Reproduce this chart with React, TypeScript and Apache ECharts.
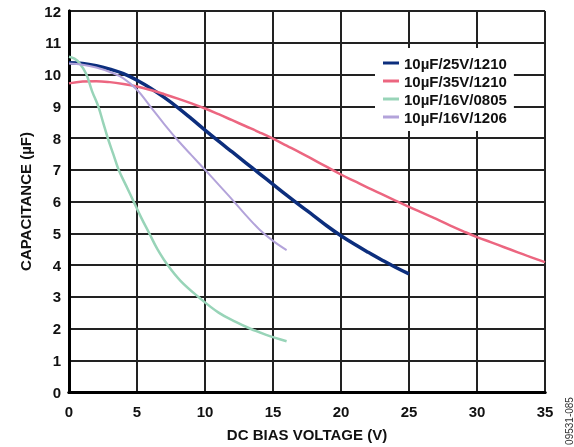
import React, { useEffect, useRef } from "react";
import * as echarts from "echarts";

const seriesNames = ["10µF/25V/1210", "10µF/35V/1210", "10µF/16V/0805", "10µF/16V/1206"];
const seriesColors = ["#0c2e7d", "#ec6680", "#98d4b8", "#b3a3da"];
const seriesWidths = [3.5, 2.5, 2.5, 2];

const blueV = [0, 1, 2, 3, 4, 5, 6, 7, 8, 9, 10, 11, 12, 13, 14, 15, 16, 17, 18, 19, 20, 21, 22, 23, 24, 25];
const blueC = [10.37, 10.35, 10.28, 10.17, 10.03, 9.82, 9.57, 9.28, 8.96, 8.61, 8.25, 7.9, 7.56, 7.22, 6.88, 6.54, 6.2, 5.87, 5.55, 5.22, 4.92, 4.65, 4.4, 4.16, 3.93, 3.72];

const pinkV = [0, 1, 2, 3, 4, 5, 6, 7, 8, 9, 10, 11, 12, 13, 14, 15, 16, 17, 18, 19, 20, 21, 22, 23, 24, 25, 26, 27, 28, 29, 30, 31, 32, 33, 34, 35];
const pinkC = [9.72, 9.78, 9.79, 9.76, 9.7, 9.62, 9.51, 9.38, 9.24, 9.09, 8.93, 8.75, 8.56, 8.37, 8.18, 7.98, 7.76, 7.54, 7.31, 7.08, 6.85, 6.64, 6.43, 6.23, 6.03, 5.83, 5.64, 5.45, 5.25, 5.06, 4.88, 4.72, 4.56, 4.4, 4.24, 4.09];

const greenV = [0, 0.4, 0.75, 1.25, 1.7, 2.15, 2.5, 2.85, 3.25, 3.65, 4.2, 4.75, 5.3, 5.9, 6.5, 7.25, 8.2, 9.5, 11, 12.3, 13.3, 14.5, 16];
const greenC = [10.56, 10.5, 10.37, 10.03, 9.47, 9.0, 8.5, 8.0, 7.5, 7.0, 6.5, 6.0, 5.5, 5.0, 4.5, 4.0, 3.5, 3.0, 2.5, 2.2, 2.0, 1.8, 1.6];

const purpleV = [0, 1, 2, 3, 4, 5, 6, 7, 8, 9, 10, 11, 12, 13, 14, 15, 16];
const purpleC = [10.35, 10.31, 10.22, 10.08, 9.88, 9.52, 8.98, 8.44, 7.93, 7.46, 7.0, 6.53, 6.06, 5.57, 5.12, 4.76, 4.47];

const xMin = 0;
const xMax = 35;
const xStep = 5;
const yMin = 0;
const yMax = 12;
const yStep = 1;

const xTitle = "DC BIAS VOLTAGE (V)";
const yTitle = "CAPACITANCE (µF)";
const figureId = "09531-085";

const FONT = 'Arial, "Liberation Sans", Helvetica, sans-serif';
const GRID = { left: 69, right: 29, top: 11, bottom: 55 };

function pairs(xs: number[], ys: number[]) {
  return xs.map((x, i) => [x, ys[i]]);
}

// Background layer: frame and grid lines drawn by the axes.
function GridLayer() {
  const ref = useRef<HTMLDivElement>(null);
  useEffect(() => {
    if (!ref.current) return;
    const chart = echarts.init(ref.current, null, { renderer: "svg" });
    chart.setOption({
      animation: false,
      grid: { ...GRID },
      xAxis: {
        type: "value",
        min: xMin,
        max: xMax,
        interval: xStep,
        axisLine: { show: true, lineStyle: { color: "#000", width: 3 } },
        axisTick: { show: false },
        axisLabel: { show: false },
        splitLine: { show: true, lineStyle: { color: "#222", width: 2 } },
      },
      yAxis: {
        type: "value",
        min: yMin,
        max: yMax,
        interval: yStep,
        axisLine: { show: true, lineStyle: { color: "#000", width: 3 } },
        axisTick: { show: false },
        axisLabel: { show: false },
        splitLine: { show: true, lineStyle: { color: "#222", width: 2 } },
      },
      series: [],
    });
    return () => chart.dispose();
  }, []);
  return <div ref={ref} style={{ position: "absolute", left: 0, top: 0, width: 574, height: 447 }} />;
}

function MainChart() {
  const ref = useRef<HTMLDivElement>(null);
  useEffect(() => {
    if (!ref.current) return;
    const chart = echarts.init(ref.current, null, { renderer: "svg" });
    const allX = [blueV, pinkV, greenV, purpleV];
    const allY = [blueC, pinkC, greenC, purpleC];
    const labelStyle = { fontSize: 15, fontWeight: "bold", color: "#111", fontFamily: FONT };
    chart.setOption({
      animation: false,
      grid: { ...GRID },
      legend: {
        orient: "vertical",
        left: 375,
        top: 48,
        padding: [6, 7, 5, 8],
        backgroundColor: "#fff",
        itemGap: 0,
        itemWidth: 16,
        itemHeight: 3,
        icon: "rect",
        textStyle: { ...labelStyle, lineHeight: 18 },
        data: seriesNames,
      },
      xAxis: {
        type: "value",
        min: xMin,
        max: xMax,
        interval: xStep,
        name: xTitle,
        nameLocation: "middle",
        nameGap: 35,
        nameTextStyle: { ...labelStyle },
        axisLine: { show: true, lineStyle: { color: "#000", width: 3 } },
        axisTick: { show: false },
        axisLabel: { ...labelStyle, margin: 12 },
        splitLine: { show: true, lineStyle: { color: "#222", width: 2 } },
      },
      yAxis: {
        type: "value",
        min: yMin,
        max: yMax,
        interval: yStep,
        name: yTitle,
        nameLocation: "middle",
        nameGap: 36,
        nameTextStyle: { ...labelStyle },
        axisLine: { show: true, lineStyle: { color: "#000", width: 3 } },
        axisTick: { show: false },
        axisLabel: { ...labelStyle, margin: 8 },
        splitLine: { show: true, lineStyle: { color: "#222", width: 2 } },
      },
      series: seriesNames.map((name, i) => ({
        name,
        type: "line",
        smooth: 0.4,
        showSymbol: false,
        symbol: "none",
        data: pairs(allX[i], allY[i]),
        lineStyle: { color: seriesColors[i], width: seriesWidths[i] },
        itemStyle: { color: seriesColors[i] },
      })),
    });
    return () => chart.dispose();
  }, []);
  return <div ref={ref} style={{ position: "absolute", left: 0, top: 0, width: 574, height: 447 }} />;
}

function Watermark() {
  const ref = useRef<HTMLDivElement>(null);
  useEffect(() => {
    if (!ref.current) return;
    const chart = echarts.init(ref.current, null, { renderer: "svg" });
    chart.setOption({
      animation: false,
      graphic: [
        {
          type: "text",
          x: 10,
          y: 30,
          rotation: Math.PI / 2,
          style: { text: figureId, fontSize: 10, fill: "#333", textAlign: "center", textVerticalAlign: "middle" },
        },
      ],
    });
    return () => chart.dispose();
  }, []);
  return <div ref={ref} style={{ position: "absolute", left: 559, top: 391, width: 20, height: 56 }} />;
}

export default function App() {
  return (
    <div style={{ position: "fixed", left: 0, top: 0, width: 574, height: 447 }}>
      <GridLayer />
      <MainChart />
      <Watermark />
    </div>
  );
}
